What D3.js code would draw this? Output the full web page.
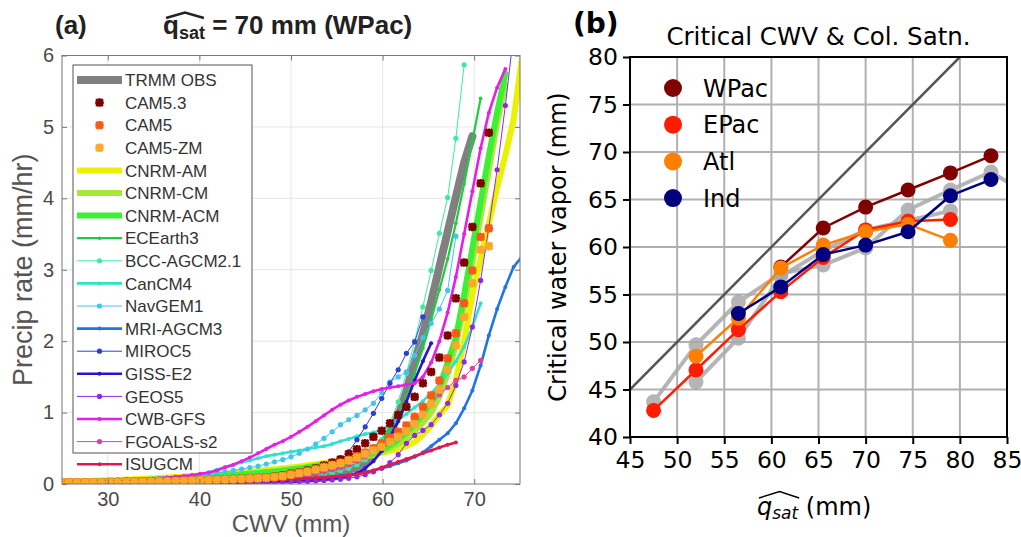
<!DOCTYPE html>
<html><head><meta charset="utf-8">
<script src="https://cdn.jsdelivr.net/npm/d3@7"></script>
<style>body{margin:0;background:#fff}svg{display:block}</style>
</head><body>
<svg id="c" width="1021" height="537"></svg>
<script>
// ================= DATA: panel (a) =================
const cwvBins = [24.8,25.7,26.6,27.5,28.4,29.3,30.2,31.1,32.0,32.9,
  33.8,34.7,35.6,36.5,37.4,38.3,39.2,40.1,41.0,41.9,
  42.8,43.7,44.6,45.5,46.4,47.3,48.2,49.1,50.0,50.9,
  51.8,52.7,53.6,54.5,55.4,56.3,57.2,58.1,59.0,59.9,
  60.8,61.7,62.6,63.5,64.4,65.3,66.2,67.1,68.0,68.9,
  69.8,70.7,71.6,72.5,73.4,74.3,75.2];
const xTicksA = [30,40,50,60,70];
const yTicksA = [0,1,2,3,4,5,6];

const trmmObs = [.02,.02,.022,.024,.025,.027,.029,.031,.033,.035,
  .037,.039,.041,.043,.045,.047,.05,.052,.055,.058,
  .061,.064,.067,.07,.074,.078,.082,.087,.092,.1,
  .11,.12,.135,.15,.17,.2,.24,.3,.4,.55,
  .72,.95,1.3,1.72,2.1,2.55,3.04,3.53,4.02,4.5,4.87];
const cam53 = [.02,.02,.021,.022,.024,.025,.027,.028,.03,.032,
  .034,.036,.038,.04,.043,.046,.05,.053,.057,.061,
  .065,.07,.075,.08,.085,.09,.105,.12,.145,.165,
  .19,.22,.26,.30,.345,.42,.485,.57,.66,.745,
  .85,.965,1.08,1.22,1.41,1.57,1.77,2.08,2.6,3.1,
  3.6,4.21,4.92];
const cam5 = [.02,.02,.021,.022,.023,.024,.026,.027,.029,.031,
  .033,.035,.037,.039,.042,.045,.048,.051,.055,.059,
  .063,.067,.072,.077,.082,.088,.1,.115,.14,.16,
  .18,.21,.24,.27,.3,.34,.39,.44,.5,.57,
  .65,.73,.82,.94,1.08,1.24,1.45,1.76,2.11,2.53,
  2.99,3.46,3.58];
const cam5zm = [.02,.02,.021,.022,.023,.024,.026,.027,.029,.031,
  .033,.035,.037,.039,.042,.045,.048,.051,.055,.059,
  .063,.067,.072,.077,.082,.088,.098,.11,.13,.15,
  .17,.2,.23,.26,.29,.33,.37,.42,.47,.52,
  .59,.66,.74,.84,.97,1.12,1.32,1.6,1.94,2.34,
  2.81,3.28,3.33];
const cnrmAm = [.03,.033,.037,.04,.044,.048,.052,.057,.062,.067,
  .072,.078,.084,.09,.097,.104,.111,.119,.127,.135,
  .144,.153,.163,.173,.184,.195,.207,.22,.233,.247,
  .262,.277,.293,.31,.328,.347,.367,.388,.41,.435,
  .46,.49,.53,.59,.69,.82,.97,1.1,1.45,2.0,
  2.65,3.15,3.65,4.15,4.6,5.1,5.95];
const cnrmCm = [.02,.022,.025,.028,.031,.034,.037,.041,.045,.049,
  .053,.058,.063,.068,.074,.08,.086,.093,.1,.108,
  .116,.125,.134,.144,.154,.165,.177,.19,.204,.219,
  .235,.252,.27,.29,.31,.33,.355,.38,.41,.45,
  .5,.56,.64,.74,.86,1.0,1.22,1.55,1.95,2.5,
  3.1,3.75,4.4,5.05,5.6];
const cnrmAcm = [.02,.022,.025,.028,.031,.034,.037,.041,.045,.049,
  .053,.058,.063,.068,.074,.08,.086,.093,.1,.108,
  .116,.125,.134,.144,.154,.165,.177,.19,.204,.219,
  .235,.252,.27,.29,.31,.335,.36,.39,.43,.48,
  .54,.62,.72,.84,.98,1.14,1.35,1.7,2.05,2.65,
  3.3,3.95,4.6,5.2,5.75];
const ecEarth3 = [.01,.011,.012,.013,.014,.015,.016,.018,.02,.022,
  .024,.026,.028,.03,.033,.036,.039,.042,.046,.05,
  .055,.06,.066,.072,.079,.087,.095,.104,.114,.125,
  .14,.16,.18,.21,.24,.28,.33,.4,.5,.62,
  .76,.95,1.22,1.55,1.9,2.3,2.72,3.15,3.65,4.2,
  4.8,5.4];
const bccAgcm = [.01,.011,.012,.013,.014,.015,.016,.018,.02,.022,
  .024,.026,.028,.03,.033,.036,.039,.042,.046,.05,
  .055,.06,.065,.07,.076,.082,.088,.095,.1,.11,
  .12,.13,.145,.16,.19,.22,.27,.34,.45,.62,
  .85,1.15,1.55,2.0,2.48,2.99,3.51,4.01,4.84,5.87];
const canCm4 = [.02,.022,.025,.028,.031,.035,.039,.044,.05,.056,
  .063,.07,.078,.087,.097,.108,.12,.135,.16,.2,
  .24,.27,.3,.33,.36,.39,.41,.43,.45,.47,
  .49,.51,.53,.56,.6,.63,.67,.7,.72,.76,
  .82,.9,.98,1.07,1.16,1.27,1.4,1.55,1.72,1.92,
  2.2,2.53];
const navGem1 = [.02,.022,.024,.027,.03,.033,.037,.041,.046,.051,
  .057,.064,.071,.079,.088,.098,.11,.123,.137,.152,
  .17,.19,.21,.23,.25,.28,.31,.34,.38,.43,
  .49,.56,.64,.73,.83,.9,.96,1.04,1.13,1.28,
  1.43,1.5,1.57,1.8,2.05,2.25,2.45,2.71,3.47];
const mriAgcm3 = [.01,.01,.011,.012,.013,.014,.015,.016,.017,.018,
  .019,.02,.021,.022,.023,.025,.026,.028,.03,.032,
  .034,.036,.038,.04,.043,.046,.05,.055,.06,.066,
  .073,.08,.09,.1,.115,.13,.15,.17,.19,.22,
  .25,.29,.33,.38,.44,.53,.62,.71,.85,1.06,
  1.31,1.66,2.08,2.45,2.76,3.04,3.18];
const miroc5 = [.005,.005,.006,.006,.007,.007,.008,.008,.009,.01,
  .011,.012,.013,.014,.015,.017,.019,.021,.023,.026,
  .029,.032,.036,.04,.045,.05,.057,.065,.075,.09,
  .11,.14,.18,.24,.32,.45,.62,.8,.99,1.2,
  1.41,1.6,1.83,1.99,2.34];
const gissE2 = [.005,.005,.005,.006,.006,.006,.007,.007,.007,.008,
  .008,.009,.009,.01,.01,.011,.012,.013,.014,.015,
  .016,.017,.018,.02,.021,.023,.025,.027,.03,.034,
  .04,.047,.056,.068,.085,.11,.15,.22,.32,.46,
  .65,.88,1.15,1.45,1.72,1.97];
const geos5 = [.005,.005,.005,.006,.006,.006,.007,.007,.007,.008,
  .008,.009,.009,.01,.01,.011,.012,.013,.014,.015,
  .016,.017,.018,.02,.021,.023,.025,.027,.03,.034,
  .038,.043,.049,.056,.065,.08,.1,.13,.17,.22,
  .3,.41,.57,.68,.75,.83,.97,1.13,1.38,1.71,
  2.2,2.85,3.6,4.4,5.3,6.3];
const cwbGfs = [.02,.022,.025,.028,.031,.035,.039,.044,.05,.056,
  .063,.071,.08,.09,.1,.112,.126,.142,.16,.19,
  .23,.27,.32,.37,.43,.49,.55,.6,.66,.73,
  .8,.88,.96,1.04,1.11,1.17,1.22,1.26,1.3,1.33,
  1.35,1.37,1.39,1.41,1.5,1.7,2.0,2.4,2.9,3.5,
  4.1,4.7,5.2,5.55,5.81];
const fgoalsS2 = [.005,.005,.006,.006,.007,.008,.009,.01,.011,.012,
  .013,.014,.016,.018,.02,.022,.024,.027,.03,.033,
  .037,.041,.046,.051,.057,.063,.07,.078,.087,.1,
  .12,.14,.17,.2,.23,.27,.32,.38,.45,.53,
  .62,.72,.82,.92,1.02,1.12,1.25,1.35,1.45,1.5,
  1.62,1.73];
const isuGcm = [.01,.01,.011,.012,.013,.014,.015,.016,.017,.018,
  .019,.02,.022,.024,.026,.028,.03,.032,.034,.037,
  .04,.043,.046,.049,.052,.055,.058,.062,.066,.071,
  .077,.084,.092,.1,.11,.12,.135,.16,.19,.23,
  .27,.31,.35,.39,.43,.47,.51,.55,.58];

const seriesA = [
  {name:'TRMM OBS', v:trmmObs, color:'#808080', w:8, r:0, kind:'line'},
  {name:'CAM5.3', v:cam53, color:'#7f0000', kind:'star'},
  {name:'CAM5', v:cam5, color:'#f65a17', kind:'star'},
  {name:'CAM5-ZM', v:cam5zm, color:'#fca82a', kind:'star'},
  {name:'CNRM-AM', v:cnrmAm, color:'#eaf200', w:6, r:0, kind:'line'},
  {name:'CNRM-CM', v:cnrmCm, color:'#a6e838', w:6, r:0, kind:'line'},
  {name:'CNRM-ACM', v:cnrmAcm, color:'#3cf036', w:6, r:0, kind:'line'},
  {name:'ECEarth3', v:ecEarth3, color:'#1fcc3f', w:2.2, r:1.8, kind:'line'},
  {name:'BCC-AGCM2.1', v:bccAgcm, color:'#3deba0', w:1, r:2.6, kind:'line'},
  {name:'CanCM4', v:canCm4, color:'#2ee3cc', w:2.6, r:2, kind:'line'},
  {name:'NavGEM1', v:navGem1, color:'#3cc7ee', w:1, r:2.6, kind:'line'},
  {name:'MRI-AGCM3', v:mriAgcm3, color:'#1f74ea', w:2.6, r:2, kind:'line'},
  {name:'MIROC5', v:miroc5, color:'#2a40d6', w:1, r:2.6, kind:'line'},
  {name:'GISS-E2', v:gissE2, color:'#2a12d2', w:2.6, r:2, kind:'line'},
  {name:'GEOS5', v:geos5, color:'#8d2ae6', w:1, r:2.6, kind:'line'},
  {name:'CWB-GFS', v:cwbGfs, color:'#e81ee8', w:2.6, r:2, kind:'line'},
  {name:'FGOALS-s2', v:fgoalsS2, color:'#ee3a9a', w:1, r:2.6, kind:'line'},
  {name:'ISUGCM', v:isuGcm, color:'#e4184e', w:2.6, r:2, kind:'line'}
];
const drawOrderA = ['TRMM OBS','CNRM-AM','CNRM-CM','CNRM-ACM','ECEarth3','BCC-AGCM2.1','CanCM4','NavGEM1',
  'MRI-AGCM3','MIROC5','GISS-E2','GEOS5','CWB-GFS','FGOALS-s2','ISUGCM','CAM5.3','CAM5','CAM5-ZM'];

// ================= DATA: panel (b) =================
const qsatBins = [47.5,52,56.5,61,65.5,70,74.5,79,83.3,87.8];
const xTicksB = [45,50,55,60,65,70,75,80,85];
const yTicksB = [40,45,50,55,60,65,70,75,80];
const wpac = [null,null,null,57.9,62.0,64.2,66.0,67.8,69.6,null];
const epac = [42.8,47.05,51.3,55.3,58.9,61.8,62.7,62.9,null,null];
const atl  = [null,48.5,52.5,57.8,60.2,61.6,62.4,60.7,null,null];
const ind  = [null,null,53.0,55.8,59.2,60.2,61.6,65.4,67.1,null];
const gray1 = [43.7,49.7,54.2,57.2,58.1,59.9,63.9,66.0,67.9,65.2];
const gray2 = [null,45.8,50.4,56.9,59.6,61.8,62.8,63.8,null,null];
const seriesB = [
  {name:'gray1', v:gray1, color:'#a9a9a9', gray:true},
  {name:'gray2', v:gray2, color:'#a9a9a9', gray:true},
  {name:'WPac', v:wpac, color:'#800000'},
  {name:'EPac', v:epac, color:'#ff1c00'},
  {name:'Atl', v:atl, color:'#ff7f00'},
  {name:'Ind', v:ind, color:'#00007f'}
];

// ================= DRAW =================
const svg = d3.select('#c');
const SANS = "'Liberation Sans', Arial, Helvetica, sans-serif";
const DJ = "'DejaVu Sans', sans-serif";

// ---------- panel (a)
const xa = d3.scaleLinear().domain([25,75]).range([62,520]);
const ya = d3.scaleLinear().domain([0,6]).range([484,55.5]);
const ga = svg.append('g');
ga.append('defs').append('clipPath').attr('id','clipA').append('rect')
  .attr('x',xa(25)).attr('y',ya(6)).attr('width',xa(75)-xa(25)).attr('height',ya(0)-ya(6));
ga.append('g').selectAll('line').data(xTicksA).join('line')
  .attr('x1',d=>xa(d)).attr('x2',d=>xa(d)).attr('y1',ya(0)).attr('y2',ya(6))
  .attr('stroke','#e6e6e6').attr('stroke-width',1);
ga.append('g').selectAll('line').data(yTicksA.slice(1,-1)).join('line')
  .attr('y1',d=>ya(d)).attr('y2',d=>ya(d)).attr('x1',xa(25)).attr('x2',xa(75))
  .attr('stroke','#e6e6e6').attr('stroke-width',1);

const plotA = ga.append('g').attr('clip-path','url(#clipA)');
const lineA = d3.line().defined(d=>d!=null).x((d,i)=>xa(cwvBins[i])).y(d=>ya(d));
const starPath = s => `M${-s},${-s}L${s},${s}M${-s},${s}L${s},${-s}M0,${-s*1.25}L0,${s*1.25}M${-s*1.25},0L${s*1.25},0`;
const byName = Object.fromEntries(seriesA.map(s=>[s.name,s]));
drawOrderA.forEach(n=>{
  const s = byName[n];
  const g = plotA.append('g');
  if (s.kind==='line') {
    g.append('path').attr('d',lineA(s.v)).attr('fill','none').attr('stroke',s.color)
      .attr('stroke-width',s.w).attr('stroke-linejoin','round').attr('stroke-linecap','round');
    if (s.r>0) g.selectAll('circle').data(s.v).join('circle')
      .attr('cx',(d,i)=>xa(cwvBins[i])).attr('cy',d=>ya(d)).attr('r',s.r).attr('fill',s.color);
  } else {
    g.selectAll('path').data(s.v).join('path')
      .attr('transform',(d,i)=>`translate(${xa(cwvBins[i])},${ya(d)})`)
      .attr('d',starPath(3.4)).attr('stroke',s.color).attr('stroke-width',2.6).attr('fill','none');
  }
});

const fmtInt = d3.format('d');
const axB = ga.append('g').attr('transform',`translate(0,${ya(0)})`)
  .call(d3.axisBottom(xa).tickValues(xTicksA).tickFormat(fmtInt).tickSize(-5).tickPadding(8));
const axL = ga.append('g').attr('transform',`translate(${xa(25)},0)`)
  .call(d3.axisLeft(ya).tickValues(yTicksA).tickFormat(fmtInt).tickSize(-5).tickPadding(8));
const axT = ga.append('g').attr('transform',`translate(0,${ya(6)})`)
  .call(d3.axisTop(xa).tickValues(xTicksA).tickSize(-5).tickFormat(''));
const axR = ga.append('g').attr('transform',`translate(${xa(75)},0)`)
  .call(d3.axisRight(ya).tickValues(yTicksA).tickSize(-5).tickFormat(''));
[axB,axL,axT,axR].forEach(a=>{
  a.select('.domain').remove();
  a.selectAll('line').attr('stroke','#777');
  a.selectAll('text').attr('font-family',SANS).attr('font-size',20).attr('fill','#4a4a4a');
});
ga.append('rect').attr('x',xa(25)).attr('y',ya(6)).attr('width',xa(75)-xa(25)).attr('height',ya(0)-ya(6))
  .attr('fill','none').attr('stroke','#777').attr('stroke-width',1);

// legend
const lg = ga.append('g');
lg.append('rect').attr('x',73).attr('y',65).attr('width',179).attr('height',388)
  .attr('fill','#fff').attr('stroke','#555').attr('stroke-width',1);
seriesA.forEach((s,i)=>{
  const yy = 80 + i*22.6;
  if (s.kind==='line') {
    lg.append('line').attr('x1',77).attr('x2',122).attr('y1',yy).attr('y2',yy)
      .attr('stroke',s.color).attr('stroke-width',s.w);
    if (s.r>0) lg.append('circle').attr('cx',99.5).attr('cy',yy).attr('r',s.r).attr('fill',s.color);
  } else {
    lg.append('path').attr('transform',`translate(99.5,${yy})`).attr('d',starPath(3.4))
      .attr('stroke',s.color).attr('stroke-width',2.6).attr('fill','none');
  }
  lg.append('text').attr('x',125).attr('y',yy).attr('dy','0.36em').text(s.name)
    .attr('font-family',SANS).attr('font-size',17).attr('fill','#333');
});

ga.append('text').attr('transform',`translate(32,${(ya(0)+ya(6))/2}) rotate(-90)`)
  .attr('text-anchor','middle').attr('font-family',SANS).attr('font-size',27).attr('fill','#555')
  .text('Precip rate (mm/hr)');
ga.append('text').attr('x',(xa(25)+xa(75))/2).attr('y',532).attr('text-anchor','middle')
  .attr('font-family',SANS).attr('font-size',24).attr('fill','#555').text('CWV (mm)');
ga.append('text').attr('x',55).attr('y',34).attr('font-family',SANS).attr('font-weight','bold')
  .attr('font-size',26).attr('fill','#222').text('(a)');
const tA = ga.append('text').attr('x',163).attr('y',34).attr('font-family',SANS)
  .attr('font-weight','bold').attr('font-size',26).attr('fill','#222');
tA.append('tspan').text('q');
tA.append('tspan').attr('font-size',18).attr('dy',5).text('sat');
tA.append('tspan').attr('dy',-5).text(' = 70 mm (WPac)');
{
  const n = tA.node();
  const x0 = n.getStartPositionOfChar(0).x;
  const x1 = n.getEndPositionOfChar(3).x;
  ga.append('path').attr('d',`M${x0+3},18L${(x0+x1)/2+1},12.5L${x1-1},18`)
    .attr('fill','none').attr('stroke','#222').attr('stroke-width',2.4);
}

// ---------- panel (b)
const xb = d3.scaleLinear().domain([45,85]).range([630,1007]);
const yb = d3.scaleLinear().domain([40,80]).range([437,57]);
const gb = svg.append('g');
gb.append('defs').append('clipPath').attr('id','clipB').append('rect')
  .attr('x',xb(45)).attr('y',yb(80)).attr('width',xb(85)-xb(45)).attr('height',yb(40)-yb(80));
gb.append('g').selectAll('line').data(xTicksB).join('line')
  .attr('x1',d=>xb(d)).attr('x2',d=>xb(d)).attr('y1',yb(40)).attr('y2',yb(80))
  .attr('stroke','#b0b0b0').attr('stroke-width',2);
gb.append('g').selectAll('line').data(yTicksB).join('line')
  .attr('y1',d=>yb(d)).attr('y2',d=>yb(d)).attr('x1',xb(45)).attr('x2',xb(85))
  .attr('stroke','#b0b0b0').attr('stroke-width',2);
const plotB = gb.append('g').attr('clip-path','url(#clipB)');
plotB.append('line').attr('x1',xb(45)).attr('y1',yb(45)).attr('x2',xb(80)).attr('y2',yb(80))
  .attr('stroke','#555').attr('stroke-width',2.5);
const lineB = d3.line().defined(d=>d!=null).x((d,i)=>xb(qsatBins[i])).y(d=>yb(d));
seriesB.forEach(s=>{
  const g = plotB.append('g').attr('opacity', s.gray?0.85:1);
  g.append('path').attr('d',lineB(s.v)).attr('fill','none').attr('stroke',s.color)
    .attr('stroke-width',s.gray?4:2.5);
  g.selectAll('circle').data(s.v.map((d,i)=>[qsatBins[i],d]).filter(d=>d[1]!=null)).join('circle')
    .attr('cx',d=>xb(d[0])).attr('cy',d=>yb(d[1])).attr('r',7.5).attr('fill',s.color);
});
gb.append('rect').attr('x',xb(45)).attr('y',yb(80)).attr('width',xb(85)-xb(45)).attr('height',yb(40)-yb(80))
  .attr('fill','none').attr('stroke','#000').attr('stroke-width',2);
const bX = gb.append('g').attr('transform',`translate(0,${yb(40)})`)
  .call(d3.axisBottom(xb).tickValues(xTicksB).tickSize(7).tickPadding(7));
const bY = gb.append('g').attr('transform',`translate(${xb(45)},0)`)
  .call(d3.axisLeft(yb).tickValues(yTicksB).tickSize(7).tickPadding(5));
[bX,bY].forEach(a=>{
  a.select('.domain').remove();
  a.selectAll('line').attr('stroke','#000').attr('stroke-width',2);
  a.selectAll('text').attr('font-family',DJ).attr('font-size',23.5).attr('fill','#000');
});
seriesB.filter(s=>!s.gray).forEach((s,i)=>{
  const yy = 88 + i*36.7;
  gb.append('circle').attr('cx',673).attr('cy',yy).attr('r',9).attr('fill',s.color);
  gb.append('text').attr('x',703).attr('y',yy).attr('dy','0.36em').text(s.name)
    .attr('font-family',DJ).attr('font-size',24).attr('fill','#000');
});
gb.append('text').attr('x',(xb(45)+xb(85))/2).attr('y',45).attr('text-anchor','middle')
  .attr('font-family',DJ).attr('font-size',24.5).attr('fill','#000').text('Critical CWV & Col. Satn.');
gb.append('text').attr('x',573).attr('y',33).attr('font-family',DJ).attr('font-weight','bold')
  .attr('font-size',28).attr('fill','#000').text('(b)');
gb.append('text').attr('transform',`translate(566,${(yb(40)+yb(80))/2}) rotate(-90)`)
  .attr('text-anchor','middle').attr('font-family',DJ).attr('font-size',24).attr('fill','#000')
  .text('Critical water vapor (mm)');
const tB = gb.append('text').attr('x',757).attr('y',515).attr('font-family',DJ)
  .attr('font-size',24).attr('fill','#000');
tB.append('tspan').attr('font-style','italic').text('q');
tB.append('tspan').attr('font-style','italic').attr('font-size',17).attr('dy',4).text('sat');
tB.append('tspan').attr('dy',-4).text(' (mm)');
{
  const n = tB.node();
  const x0 = n.getStartPositionOfChar(0).x;
  const x1 = n.getEndPositionOfChar(3).x;
  gb.append('path').attr('d',`M${x0+2},498L${(x0+x1)/2+2},491.5L${x1+1},498`)
    .attr('fill','none').attr('stroke','#000').attr('stroke-width',1.4);
}
</script>
</body></html>
